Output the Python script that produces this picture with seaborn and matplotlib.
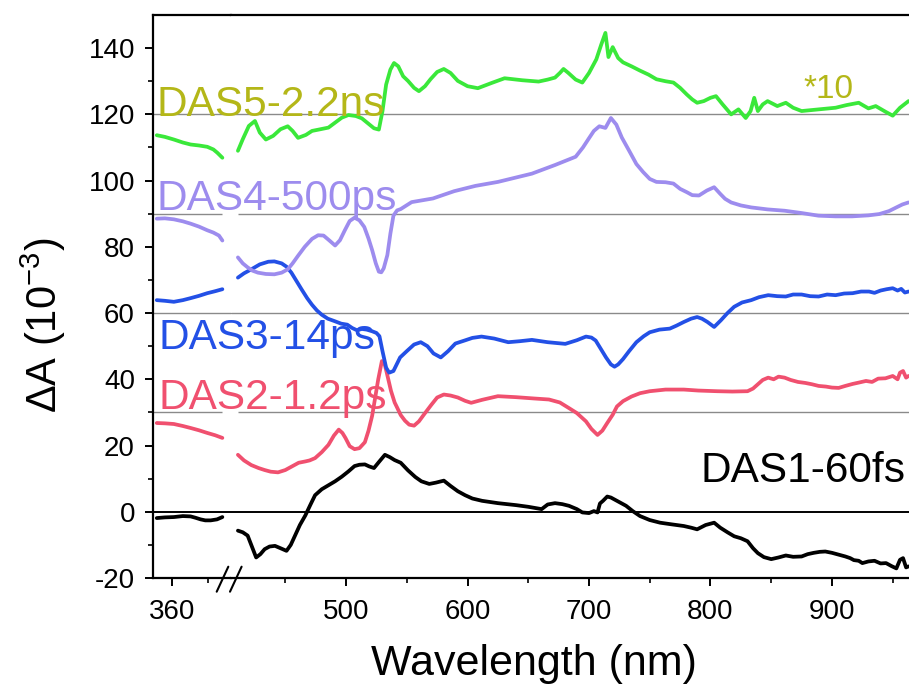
import numpy as np
import pandas as pd
import matplotlib
matplotlib.use("Agg")
import matplotlib.pyplot as plt
from matplotlib.lines import Line2D
import seaborn as sns

# ---------------- data (wavelength nm, dA in 1e-3) ----------------
# left segment of the broken axis
das5_left_nm = [351.5, 356, 361, 366, 370.3, 375, 379.6, 383, 385.2, 388]
das5_left_val = [113.7, 113.2, 112.4, 111.5, 110.9, 110.6, 110.2, 109.4, 108.4, 106.9]
das4_left_nm = [351.5, 356, 361, 366, 370.3, 375, 379.6, 383, 386.1, 388]
das4_left_val = [88.5, 88.6, 88.3, 87.7, 87.0, 86.1, 85.0, 84.3, 83.4, 81.9]
das3_left_nm = [351.5, 356, 361, 366, 370.3, 375, 379.6, 384, 388]
das3_left_val = [63.9, 63.7, 63.4, 63.9, 64.5, 65.2, 66.0, 66.6, 67.2]
das2_left_nm = [351.5, 356, 361, 366, 370.3, 375, 379.6, 384, 388]
das2_left_val = [26.8, 26.7, 26.5, 25.9, 25.3, 24.6, 23.8, 23.1, 22.3]
das1_left_nm = [351.5, 356, 361, 366, 370.3, 373, 375.9, 378.5, 381.5, 385, 388]
das1_left_val = [-1.9, -1.7, -1.6, -1.3, -1.4, -1.8, -2.3, -2.6, -2.6, -2.3, -1.6]

# right segment
das5_nm = [411, 415, 420, 425, 429, 434, 440, 446, 452, 456, 460.5, 467, 472, 477.5, 485.5,
           491, 496.5, 502, 508, 513, 519, 523, 527, 530, 533, 536.5, 539.5, 543, 547, 551,
           556, 560, 565, 569.5, 575, 580.5, 586, 592, 600, 608.5, 620, 630.5, 645, 658.5,
           666, 672, 676, 679, 683, 689, 694.5, 700, 706, 710, 713.5, 716, 719.5, 724, 728,
           735, 742, 749, 755.5, 763, 769.5, 775, 780.5, 785, 789, 794.5, 800, 804.5, 810,
           817, 823, 829, 833, 836, 839, 843, 847, 855, 862, 868, 875, 889, 903, 912, 922,
           930, 936, 944, 950, 956, 963]
das5_val = [109, 112.5, 116.5, 118, 114.5, 112.4, 113.5, 115.5, 116.4, 115, 112.9, 113.8, 115,
            115.4, 116, 117.5, 119, 119.8, 119.5, 118.8, 117, 115.8, 115.4, 121, 129, 133.5,
            135.5, 134.5, 131.5, 130.1, 128, 127, 128.5, 130.6, 132.8, 133.7, 132.5, 130.1,
            128.5, 127.9, 129.5, 130.9, 130.3, 129.9, 130.5, 131.1, 132.5, 133.7, 132.5, 130.5,
            129.6, 132.5, 136.6, 141, 144.6, 137.3, 140.3, 137, 135.7, 134.5, 133.2, 132,
            130.6, 130, 129.6, 128, 126, 124.5, 123.5, 124, 125, 125.5, 123, 120, 121.5, 118.9,
            121, 125, 121, 123, 124, 122.5, 123.5, 122, 121, 121.5, 122, 122.8, 123.5, 121.8,
            122.5, 120.8, 119.6, 122, 124]

das4_nm = [411, 415, 419, 423, 427.5, 434, 441, 447, 452, 456, 460.5, 466, 472, 477, 481.5,
           486, 491, 495, 499, 503, 507, 511, 515, 518.5, 521.5, 524.5, 527, 529, 531, 534,
           536.5, 539, 542, 545, 554, 571.5, 589, 606.5, 625, 653, 672, 689, 695, 700, 704,
           708.5, 713.5, 718, 722.5, 727, 733.5, 739, 744.5, 750, 755.5, 763, 769.5, 775,
           780.5, 785, 790.5, 797, 803, 808, 812, 817, 825, 833.5, 847, 861, 875, 889, 903,
           916.5, 930, 939, 947, 953, 958, 963]
das4_val = [76.8, 75, 73.8, 72.8, 72.2, 71.8, 71.7, 72.2, 73.2, 75, 77.3, 80, 82.4, 83.5,
            83.4, 82, 80.4, 82, 85, 87.8, 88.8, 88, 86, 82.5, 79, 75, 72.5, 72.3, 73.5, 77.5,
            84, 89.4, 91, 91.4, 93.5, 94.6, 96.8, 98.4, 99.6, 102.1, 104.7, 107.2, 110, 112.8,
            115, 116.4, 115.9, 118.9, 116.9, 113, 108.7, 105, 102.6, 100.5, 99.6, 99.5, 99.1,
            97.5, 96.5, 95.6, 95.5, 97, 98, 96, 94.5, 93.4, 92.5, 91.9, 91.3, 90.9, 90.2, 89.4,
            89.2, 89.2, 89.5, 89.9, 90.8, 91.9, 92.8, 93.4]

das3_nm = [411, 416, 422, 429, 436, 441, 447, 451, 455, 459, 463.5, 468, 472, 476, 480, 485,
           491, 496, 501, 505, 509, 513, 517, 521.5, 525, 527.5, 530, 533, 535.5, 539, 544.5,
           550, 556, 561.5, 567, 572, 578, 584, 590, 597.5, 604, 611.5, 622, 633.5, 643, 653,
           666, 680.5, 690, 697.5, 702, 705.5, 710, 714, 718, 721, 724, 728, 733, 739, 745,
           750, 758, 766.5, 772, 778, 784, 789, 793, 797.5, 803, 808.5, 814, 819.5, 826,
           833.5, 840, 847.5, 855, 862, 868, 875, 882, 889, 896, 903, 910, 917, 924, 930.5,
           935, 940, 945, 950, 954, 957, 960, 963]
das3_val = [70.7, 72, 73.2, 74.7, 75.5, 75.6, 75, 74, 72.2, 69.8, 67.1, 64.5, 62.5, 60.8, 59.5,
            58.3, 57.5, 56.8, 56.5, 55.5, 54.8, 55.2, 55, 54.5, 54, 53, 48.5, 43.5, 42, 42.5,
            46.6, 48.5, 50.5, 51.2, 50, 47.8, 46.6, 48.5, 50.8, 51.7, 52.5, 52.9, 52.3, 51.2,
            51.5, 51.9, 51.2, 50.7, 51.8, 52.9, 52.6, 51.7, 49, 46.6, 44.5, 43.8, 44.5, 46.1,
            48.5, 51.2, 53, 54.2, 55, 55.3, 56.2, 57.3, 58.3, 58.8, 58.3, 57.3, 55.8, 57.8, 60,
            61.9, 63.2, 63.9, 64.8, 65.4, 65.1, 65, 65.6, 65.6, 65.1, 65, 65.6, 65.4, 65.9, 66,
            66.5, 66.5, 66.1, 66.8, 67.2, 67.5, 66.8, 67.3, 66.2, 66.5]

das2_nm = [411, 416, 422, 428, 433, 438, 444, 450, 455, 461, 466.5, 470, 474.5, 480, 485.5,
           490, 494, 497, 499.5, 503, 507, 511, 515.5, 518.5, 521.5, 524, 526.5, 529.5, 531.5,
           533.5, 537, 540, 542, 545, 548.5, 552, 556, 560, 564, 570, 575, 580.5, 586, 592,
           598, 603, 612, 625, 640, 655, 667, 676, 683.5, 690, 697.5, 702, 707, 711, 715,
           719.5, 723, 728, 735, 742, 750, 763, 778, 790, 805.5, 818, 830.5, 835, 839, 843,
           847.5, 852, 856, 861, 866, 872, 878, 883.5, 889, 895, 900, 905.5, 911, 917, 922,
           928, 933, 938, 944, 950, 954, 956, 958.5, 961, 963]
das2_val = [17.2, 15.5, 14.1, 13.2, 12.6, 12.1, 11.9, 12.6, 13.6, 14.8, 15.2, 15.5, 16.2, 18,
            20.2, 23, 24.8, 23.8, 22.3, 19.8, 18.9, 19.2, 21, 24.5, 29, 34.5, 40, 45.5, 45, 42,
            36.5, 33, 31.5, 29.2, 27.5, 26.3, 26, 27.3, 29.3, 32.2, 34.5, 35.4, 35.1, 34.5,
            33.5, 32.9, 33.8, 34.9, 34.6, 34.2, 33.9, 33, 31.3, 29.8, 27.3, 25, 23.2, 24.5,
            26.8, 29.3, 31.8, 33.4, 34.8, 35.8, 36.4, 36.9, 36.9, 36.6, 36.4, 36.3, 36.4, 37.2,
            38.5, 39.8, 40.5, 40, 40.8, 40.5, 39.8, 39.2, 38.9, 38.5, 38, 37.8, 37.5, 37.4, 38,
            38.6, 39, 39.5, 39.2, 40.2, 40.3, 41, 40, 42, 42.5, 40.5, 41]

das1_nm = [411, 415, 419, 422.5, 426, 429.5, 433, 437, 441.5, 446, 451, 454.5, 458, 462,
           466.5, 470.5, 474.5, 480, 485.5, 491, 496.5, 502, 507, 511, 515.5, 519, 523, 527,
           532, 536, 540, 545, 551, 557, 562, 568.5, 574, 580.5, 586, 592, 598, 604, 612, 625,
           640, 650, 661, 666, 672, 678, 683.5, 690, 694.5, 700, 704, 707, 709, 711.5, 715,
           718, 723, 730.5, 736, 742, 750, 758.5, 768, 778, 784, 789, 796, 803, 808, 814,
           819.5, 825, 830.5, 835, 839, 844, 850, 856, 862, 868, 875, 880, 885, 890, 894.5,
           900, 904, 911, 915, 918, 922, 925, 930, 935, 940, 944.5, 949, 953, 956, 958.5,
           961, 963]
das1_val = [-5.7, -6.2, -7.2, -10.5, -13.8, -12.8, -11.3, -10.5, -10.3, -11, -11.8, -10,
            -7.2, -4, -1.1, 2, 5, 6.8, 8, 9.2, 10.6, 12.2, 13.8, 14.2, 14.3, 13.7, 13.2, 15,
            17.2, 16.5, 15.6, 14.8, 12.5, 10.5, 9.2, 8.4, 8.8, 9.4, 7.8, 6.2, 5, 4, 3.3, 2.6,
            2, 1.5, 0.8, 2.2, 2.6, 2.3, 1.8, 0.8, -0.2, -0.4, 0.2, -0.2, 2.5, 3.3, 4.6, 4.3,
            3.3, 1.8, 0.2, -1.3, -2.5, -3.3, -3.8, -4.3, -4.8, -5.3, -4, -3.3, -4.8, -6.2,
            -7.4, -8, -8.9, -11, -12.5, -13.7, -14.3, -13.8, -13.2, -13.6, -13.5, -12.8, -12.4,
            -12.1, -12, -12.4, -12.8, -13.5, -14, -14.6, -14.8, -15.5, -15, -14.8, -15.6,
            -15.5, -16.4, -17.1, -14.5, -14, -16.8, -16.5]

labels = ["DAS1-60fs", "DAS2-1.2ps", "DAS3-14ps", "DAS4-500ps", "DAS5-2.2ns"]
line_colors = ["#000000", "#f0506f", "#2350e6", "#9d8cee", "#3ae83a"]
text_colors = ["#000000", "#f0506f", "#2350e6", "#9d8cee", "#b4b718"]
y_ticks = [-20, 0, 20, 40, 60, 80, 100, 120, 140]
x_ticks_left = [360]
x_ticks_right = [500, 600, 700, 800, 900]

# ---------------- style ----------------
sns.set_theme(style="ticks")
plt.rcParams["font.family"] = ["Liberation Sans", "DejaVu Sans"]
plt.rcParams["mathtext.fontset"] = "custom"
plt.rcParams["mathtext.rm"] = "Liberation Sans"
plt.rcParams["mathtext.default"] = "regular"
plt.rcParams["axes.unicode_minus"] = False
plt.rcParams["text.color"] = "black"

W, H = 909, 693
fig = plt.figure(figsize=(W / 100, H / 100), dpi=100)

x_l, x_split, y_top, y_bot = 153, 231, 15, 578
axL = fig.add_axes([x_l / W, 1 - y_bot / H, (x_split - x_l) / W, (y_bot - y_top) / H])
axR = fig.add_axes([x_split / W, 1 - y_bot / H, 1 - x_split / W, (y_bot - y_top) / H], sharey=axL)

axL.set_xlim(349.4, 392.8)
axR.set_xlim(405.3, 963.4)
axL.set_ylim(-20, 150)

lefts = [(das1_left_nm, das1_left_val), (das2_left_nm, das2_left_val), (das3_left_nm, das3_left_val),
         (das4_left_nm, das4_left_val), (das5_left_nm, das5_left_val)]
rights = [(das1_nm, das1_val), (das2_nm, das2_val), (das3_nm, das3_val),
          (das4_nm, das4_val), (das5_nm, das5_val)]

# reference lines
for ax in (axL, axR):
    ax.axhline(0, color="black", lw=1.4, zorder=1)
    ax.axhline(120, color="#8a8a8a", lw=1.0, zorder=1)
    ax.axhline(60, color="#8a8a8a", lw=1.0, zorder=1)
axL.hlines([90, 30], 349.4, 388, color="#8a8a8a", lw=1.0, zorder=1)
axR.hlines([90, 30], 411, 963.4, color="#8a8a8a", lw=1.0, zorder=1)

for (ln, lv), (rn, rv), c in zip(lefts, rights, line_colors):
    dl = pd.DataFrame({"nm": ln, "dA": lv})
    dr = pd.DataFrame({"nm": rn, "dA": rv})
    sns.lineplot(data=dl, x="nm", y="dA", ax=axL, color=c, linewidth=2.7,
                 estimator=None, sort=False, zorder=3)
    sns.lineplot(data=dr, x="nm", y="dA", ax=axR, color=c, linewidth=2.7,
                 estimator=None, sort=False, zorder=3)
for ax in (axL, axR):
    for ln_ in ax.get_lines():
        if ln_.get_zorder() == 3:
            ln_.set_solid_joinstyle("round")
            ln_.set_solid_capstyle("round")

# spines / ticks
for ax in (axL, axR):
    for s in ax.spines.values():
        s.set_linewidth(1.6)
        s.set_color("black")
    ax.spines["right"].set_visible(False)
    ax.set_xlabel("")
    ax.set_ylabel("")
axR.spines["left"].set_visible(False)

axL.set_yticks(y_ticks)
axL.set_yticklabels([str(v) for v in y_ticks])
axL.set_yticks(np.arange(-10, 150, 20), minor=True)
axL.set_xticks(x_ticks_left)
axL.set_xticklabels([str(v) for v in x_ticks_left])
axL.set_xticks([380], minor=True)
axR.set_xticks(x_ticks_right)
axR.set_xticklabels([str(v) for v in x_ticks_right])
axR.set_xticks([450, 550, 650, 750, 850, 950], minor=True)

for ax in (axL, axR):
    ax.tick_params(axis="both", which="major", direction="out", length=6, width=1.4,
                   labelsize=20, color="black", labelcolor="black")
    ax.tick_params(axis="both", which="minor", direction="out", length=3.5, width=1.2, color="black")
    ax.tick_params(axis="x", pad=9)
    ax.tick_params(axis="y", pad=7)
    ax.tick_params(top=False, right=False, which="both")
axR.tick_params(axis="y", which="both", left=False, labelleft=False)

# break marks
for x0 in (216.7, 230.0):
    fig.add_artist(Line2D([x0 / W, (x0 + 11.6) / W], [1 - 591.7 / H, 1 - 566.7 / H],
                          color="black", lw=1.5, transform=fig.transFigure))

# series labels
fs = 30.5
fig.text(157 / W, 1 - 116 / H, labels[4], color=text_colors[4], fontsize=fs, ha="left", va="baseline")
fig.text(157 / W, 1 - 210 / H, labels[3], color=text_colors[3], fontsize=fs, ha="left", va="baseline")
fig.text(158 / W, 1 - 349 / H, labels[2], color=text_colors[2], fontsize=fs, ha="left", va="baseline")
fig.text(158 / W, 1 - 409 / H, labels[1], color=text_colors[1], fontsize=fs, ha="left", va="baseline")
fig.text(700 / W, 1 - 482 / H, labels[0], color=text_colors[0], fontsize=fs, ha="left", va="baseline")
fig.text(803 / W, 1 - 97.8 / H, "*10", color=text_colors[4], fontsize=24, ha="left", va="baseline")

# axis titles
fig.text(534 / W, 1 - 664 / H, "Wavelength (nm)", color="black", fontsize=31, ha="center", va="center")
fig.text(43 / W, 1 - 325 / H, "ΔA (10$^{-3}$)", color="black", fontsize=30, ha="center",
         va="center", rotation=90)

fig.savefig("out.png", dpi=100)
